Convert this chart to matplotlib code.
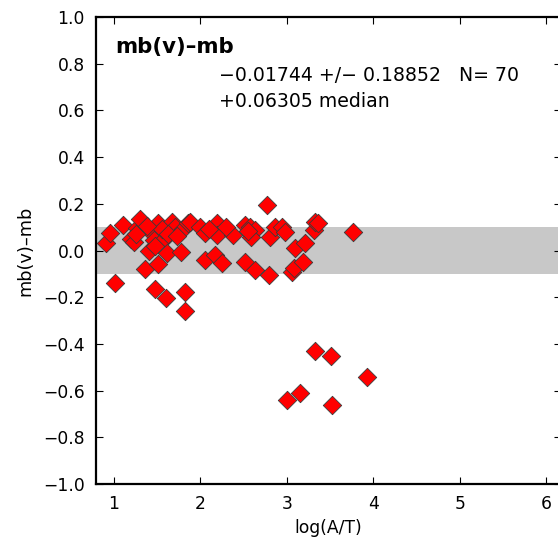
import numpy as np
import matplotlib
matplotlib.use("Agg")
import matplotlib.pyplot as plt

plt.rcParams['font.family'] = ['DejaVu Sans']

# log(A/T) and mb(v)-mb residuals
log_at = [0.91, 0.95, 1.01, 1.10, 1.20, 1.23, 1.27, 1.30, 1.36, 1.40,
          1.44, 1.46, 1.47, 1.51, 1.51, 1.59, 1.60, 1.61, 1.67, 1.71,
          1.78, 1.80, 1.82, 1.82, 1.86, 1.88, 2.00, 2.05, 2.05, 2.17,
          2.19, 2.19, 2.25, 2.38, 2.52, 2.57, 2.63, 2.59, 2.52, 2.63,
          2.77, 2.79, 2.81, 2.86, 2.94, 2.98, 3.06, 3.08, 3.09, 3.19,
          3.21, 3.31, 3.33, 3.36, 3.77, 3.33, 3.51, 3.93, 3.15, 3.00,
          3.52, 1.55, 1.63, 1.73, 1.48, 2.10, 2.55, 1.25, 1.38, 2.30]
dmb = [0.030, 0.076, -0.140, 0.110, 0.048, 0.035, 0.095, 0.134, -0.080, 0.000,
       0.074, 0.045, -0.166, 0.116, -0.058, 0.052, -0.205, -0.012, 0.123, 0.100,
       -0.005, 0.090, -0.176, -0.258, 0.116, 0.123, 0.100, 0.074, -0.040, -0.020,
       0.116, 0.066, -0.055, 0.066, 0.109, 0.100, 0.088, 0.059, -0.048, -0.083,
       0.195, -0.105, 0.059, 0.100, 0.100, 0.080, -0.090, -0.076, 0.010, -0.048,
       0.030, 0.088, 0.123, 0.116, 0.080, -0.430, -0.450, -0.540, -0.610, -0.640,
       -0.660, 0.090, 0.070, 0.060, 0.020, 0.090, 0.085, 0.070, 0.105, 0.100]

title = "mb(v)\u2013mb"
stats = "\u22120.01744 +/\u2212 0.18852   N= 70"
median = "+0.06305 median"
yticks = [-1.0, -0.8, -0.6, -0.4, -0.2, 0.0, 0.2, 0.4, 0.6, 0.8, 1.0]
ytick_labels = ["\u22121.0", "\u22120.8", "\u22120.6", "\u22120.4", "\u22120.2",
                "0.0", "0.2", "0.4", "0.6", "0.8", "1.0"]

fig = plt.figure(figsize=(5.58, 5.45), dpi=100)
ax = fig.add_axes([96/558, 1 - 484/545, 465/558, 467/545])

ax.axhspan(-0.1, 0.1, color='#c8c8c8', zorder=0, lw=0)
ax.scatter(log_at, dmb, marker='D', s=88, c='#ff0000', edgecolors='#3a3a3a',
           linewidths=0.6, zorder=3)

ax.set_xlim(0.7917, 6.174)
ax.set_ylim(-1.0, 1.0)
ax.set_xticks([1, 2, 3, 4, 5, 6])
ax.set_yticks(yticks)
ax.set_yticklabels(ytick_labels)
ax.tick_params(direction='in', top=True, right=True, length=5, width=0.8,
               labelsize=12.3, pad=8)
for s in ax.spines.values():
    s.set_linewidth(1.6)

ax.set_xlabel("log(A/T)", fontsize=12.3, labelpad=4)
ax.set_ylabel(title, fontsize=12.8, labelpad=6)

ax.text(0.041, 0.923, title, transform=ax.transAxes, fontsize=15.3,
        fontweight='bold', va='baseline', ha='left')
ax.text(0.264, 0.863, stats, transform=ax.transAxes, fontsize=13.6,
        va='baseline', ha='left')
ax.text(0.264, 0.807, median, transform=ax.transAxes, fontsize=13.6,
        va='baseline', ha='left')

fig.savefig("out.png", dpi=100)
